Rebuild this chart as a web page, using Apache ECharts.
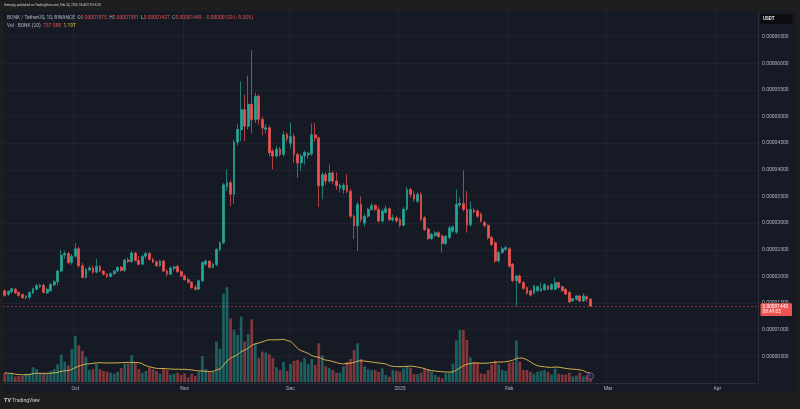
<!DOCTYPE html>
<html>
<head>
<meta charset="utf-8">
<script src="https://cdn.jsdelivr.net/npm/echarts/dist/echarts.min.js"></script>
<style>
  html, body { margin: 0; padding: 0; background: #1e1e1e; }
  #chart { width: 800px; height: 409px; }
</style>
</head>
<body>
<div id="chart"></div>
<script>
// BONK / USDT daily, 2024-09-11 .. 2025-02-24 (prices in 1e-6 USDT, volume in 1e12 BONK)
const firstDay = '2024-09-11';
const totalDays = 214; // axis runs on into April

const opens = [
  17.3,16.6,17.1,17.6,17.0,16.6,16.0,16.1,16.9,17.6,
  18.0,18.35,16.9,17.3,18.4,19.0,21.0,24.0,24.3,22.6,
  23.8,25.2,22.0,19.8,21.2,21.6,20.8,21.9,21.0,20.4,
  20.0,20.5,21.0,21.7,21.1,23.1,22.8,24.4,23.0,22.3,
  23.8,24.3,23.2,22.7,22.0,22.9,21.0,20.4,21.5,21.9,
  20.9,20.1,19.4,18.9,17.9,17.6,19.2,22.3,22.9,21.7,
  22.2,25.0,26.3,36.9,37.6,35.4,45.2,47.5,51.3,48.2,
  52.3,49.4,53.8,49.5,47.6,47.9,43.5,42.6,43.9,42.9,
  46.7,45.0,46.3,42.9,41.3,42.6,42.8,43.0,46.6,46.0,
  37.0,39.1,37.9,39.4,37.9,36.6,36.3,37.1,36.0,31.3,
  29.5,33.5,30.0,31.3,32.6,33.3,32.6,30.4,32.0,32.7,
  30.6,31.0,30.7,29.6,32.6,36.3,35.4,34.1,35.4,31.0,
  28.9,27.1,27.7,28.2,27.6,26.2,27.3,28.5,28.3,33.4,
  33.7,32.6,29.7,32.4,32.3,31.7,30.1,29.6,27.3,26.3,
  22.9,24.5,25.1,25.2,22.3,19.2,20.1,18.85,17.9,17.3,
  16.85,17.3,17.3,17.5,18.2,17.6,17.6,18.85,18.1,17.6,
  17.0,15.4,15.7,16.35,15.4,16.2,15.75
];
const closes = [
  16.4,17.2,17.7,16.9,16.4,16.0,16.3,17.0,17.7,18.3,
  18.35,17.0,17.6,18.5,19.0,21.0,24.0,24.3,22.6,23.8,
  25.2,22.0,19.8,21.3,21.6,20.8,21.9,21.0,20.4,20.0,
  20.5,21.0,21.7,21.1,23.1,22.8,24.4,23.0,22.3,23.8,
  24.3,23.2,22.7,22.0,22.9,21.0,20.4,21.6,21.8,20.9,
  20.1,19.4,18.9,17.9,17.6,19.2,22.6,22.9,21.7,22.3,
  25.1,26.3,37.2,37.6,35.4,45.2,47.6,51.3,48.2,52.3,
  49.4,53.8,49.5,47.9,47.9,43.2,42.6,43.9,42.9,46.6,
  45.8,46.3,42.9,41.3,42.6,43.3,43.1,46.6,46.0,37.0,
  39.1,37.9,39.4,37.9,37.0,37.1,37.1,36.0,31.3,29.5,
  33.5,30.7,31.3,32.6,33.3,32.6,30.4,32.3,32.7,30.7,
  31.0,30.4,29.6,32.6,36.3,35.4,34.5,35.4,30.7,28.8,
  27.1,27.9,28.2,27.5,26.2,27.5,29.1,29.3,33.5,33.7,
  32.6,29.6,32.6,32.1,31.3,30.4,29.5,27.2,26.0,22.9,
  24.5,25.2,25.4,21.9,19.2,20.1,18.85,17.73,16.85,16.5,
  18.2,18.1,17.7,18.5,17.6,18.5,18.85,17.9,17.3,16.7,
  15.2,15.85,16.35,15.4,16.35,15.75,14.45
];
const highs = [
  17.6,17.4,17.9,17.8,17.2,16.8,16.5,17.2,17.9,18.6,
  18.6,18.6,17.9,18.8,19.3,21.3,25.0,24.8,24.6,24.2,
  26.3,25.6,22.5,21.6,22.0,22.0,23.3,22.1,21.2,20.6,
  20.8,21.2,21.9,22.0,23.3,23.6,24.8,24.6,23.8,24.0,
  24.6,24.6,23.5,23.0,23.1,23.1,21.4,21.9,22.0,22.2,
  21.2,20.4,19.7,19.1,18.4,19.4,22.9,23.2,23.0,22.5,
  25.3,26.6,37.5,40.1,38.0,45.6,48.6,56.6,54.1,57.7,
  62.5,54.5,54.2,50.0,48.6,48.3,44.0,44.5,44.3,47.3,
  47.0,48.8,46.8,43.2,43.0,43.6,43.4,48.7,48.8,46.3,
  39.5,39.6,41.0,39.8,39.5,37.4,37.5,39.2,36.5,31.6,
  34.0,35.0,31.8,32.9,33.8,33.6,33.1,32.7,33.3,33.0,
  31.6,31.3,31.0,33.0,36.8,36.6,36.0,35.8,35.8,31.3,
  29.2,28.2,28.5,28.5,27.9,27.8,29.5,29.6,36.3,34.8,
  39.9,36.0,34.1,32.8,32.6,32.0,30.4,29.8,27.6,26.6,
  24.8,25.6,25.8,25.5,22.5,20.3,20.4,19.1,18.1,17.5,
  18.4,18.3,18.9,18.7,18.4,18.7,19.8,19.0,18.3,17.8,
  17.2,16.0,16.5,16.5,16.85,16.4,15.91
];
const lows = [
  16.2,16.4,16.9,16.7,16.2,15.8,15.7,15.7,16.7,17.4,
  17.8,16.8,16.7,17.1,18.2,18.3,20.8,23.3,22.3,22.2,
  23.5,21.7,19.6,19.6,20.9,20.5,20.6,20.8,20.2,19.7,
  19.8,20.2,20.8,20.9,20.9,22.5,22.5,22.8,22.0,22.1,
  23.4,23.0,22.5,21.8,21.8,20.8,20.0,20.3,21.0,20.7,
  19.9,19.2,18.7,17.7,17.3,17.5,18.9,22.0,21.5,21.5,
  21.9,24.7,26.1,36.0,33.2,33.6,44.6,45.4,45.4,47.6,
  46.8,48.8,48.5,46.5,46.8,42.5,40.1,42.2,42.5,42.5,
  45.3,44.0,41.3,38.5,39.8,41.0,42.0,42.6,45.3,33.0,
  34.5,37.2,37.5,37.3,36.3,35.8,35.5,35.6,30.9,27.0,
  24.8,30.2,29.4,31.0,32.3,32.2,30.1,30.0,31.8,30.3,
  30.3,30.1,29.2,29.4,32.3,34.8,34.0,33.8,30.4,28.5,
  26.8,26.8,27.4,27.2,24.5,25.9,27.0,28.2,28.0,33.0,
  32.2,28.2,29.3,31.8,31.0,30.1,29.2,26.9,25.7,22.6,
  22.6,24.2,24.8,21.6,18.9,14.5,18.6,17.5,16.6,16.2,
  16.6,17.1,17.1,17.3,17.4,17.4,17.4,17.7,17.1,16.5,
  15.0,15.2,15.5,15.2,15.2,15.2,14.27
];
const volumes = [
  1.0,0.9,0.9,0.6,0.65,0.65,0.9,0.9,1.6,1.4,
  0.9,0.9,0.9,1.2,1.4,1.9,3.0,2.2,1.8,3.6,
  5.0,4.0,3.4,2.7,1.3,1.4,2.0,1.4,1.2,1.1,
  1.0,0.9,1.1,1.5,2.0,2.0,2.9,2.1,1.4,1.0,
  1.2,1.6,1.4,1.2,0.9,1.5,1.3,0.8,0.9,1.0,
  0.76,0.94,0.5,0.9,0.65,1.1,2.8,1.4,1.1,1.1,
  4.4,3.6,9.6,10.3,6.9,5.65,5.1,7.1,4.4,5.2,
  6.8,4.2,2.6,3.3,3.2,3.0,2.6,1.6,1.3,2.2,
  1.2,1.95,2.3,2.4,2.2,2.6,1.95,2.5,1.85,4.2,
  2.9,1.7,1.5,1.3,1.0,1.0,1.7,2.2,2.5,3.5,
  4.2,2.5,1.7,1.4,1.3,1.3,1.1,1.48,0.76,0.58,
  1.3,1.23,1.12,1.48,1.67,1.56,0.87,0.87,1.01,1.48,
  1.38,1.12,0.76,0.58,0.4,0.94,1.01,2.0,4.5,5.65,
  5.65,4.57,2.68,2.2,2.1,0.94,0.87,1.3,1.9,2.3,
  1.9,1.3,1.2,2.1,2.2,4.5,2.2,1.3,1.3,1.1,
  0.9,1.1,1.2,1.3,1.1,0.8,1.45,0.9,0.8,0.8,
  1.0,0.6,0.7,1.0,0.6,0.7,0.74
];

const monthTicks = ['2024-10-01','2024-11-01','2024-12-01','2025-01-01','2025-02-01','2025-03-01','2025-04-01'];
const monthNames = ['Oct','Nov','Dec','2025','Feb','Mar','Apr'];

const UP = '#26a69a';
const DOWN = '#ef5350';
const FONT = 'Roboto, "Liberation Sans", sans-serif';

// build category dates
const dates = [];
const t0 = new Date(firstDay + 'T00:00:00Z').getTime();
for (let i = 0; i < totalDays; i++) {
  dates.push(new Date(t0 + i * 86400000).toISOString().slice(0, 10));
}

const candleData = opens.map((o, i) => [o, closes[i], lows[i], highs[i]]);
const volumeData = volumes.map((v, i) => ({
  value: v,
  itemStyle: { color: closes[i] >= opens[i] ? 'rgba(38,166,154,0.5)' : 'rgba(239,83,80,0.5)' }
}));
// 20 day volume average
const volumeMA = volumes.map((v, i) => {
  const win = volumes.slice(Math.max(0, i - 19), i + 1);
  return +(win.reduce((a, b) => a + b, 0) / win.length).toFixed(3);
});

const isMonthStart = (idx, val) => monthTicks.indexOf(val) >= 0;

const chart = echarts.init(document.getElementById('chart'));

chart.setOption({
  backgroundColor: '#161a25',
  animation: false,
  grid: [
    { left: 3, right: 42, top: 10, bottom: 26 },
    { left: 3, right: 42, top: 10, bottom: 27 }
  ],
  xAxis: [
    {
      type: 'category',
      gridIndex: 0,
      data: dates,
      boundaryGap: true,
      axisLine: { show: true, lineStyle: { color: '#2a2e39' } },
      axisTick: { show: false },
      axisLabel: {
        interval: isMonthStart,
        formatter: (val) => monthNames[monthTicks.indexOf(val)],
        color: '#b2b5be',
        fontSize: 5,
        fontFamily: FONT,
        margin: 3
      },
      splitLine: { show: true, interval: isMonthStart, lineStyle: { color: '#1f2330', width: 1 } }
    },
    {
      type: 'category',
      gridIndex: 1,
      data: dates,
      boundaryGap: true,
      show: false
    }
  ],
  yAxis: [
    {
      type: 'value',
      gridIndex: 0,
      position: 'right',
      min: 0,
      max: 70,
      interval: 5,
      axisLine: { show: true, lineStyle: { color: '#2a2e39' } },
      axisTick: { show: false },
      axisLabel: {
        formatter: (v) => (v <= 0 || v >= 70) ? '' : (v * 1e-6).toFixed(8),
        color: '#b2b5be',
        fontSize: 5,
        fontFamily: FONT,
        margin: 4
      },
      splitLine: { show: true, lineStyle: { color: '#1f2330', width: 1 } }
    },
    {
      type: 'value',
      gridIndex: 1,
      min: 0,
      max: 40.4,
      show: false,
      splitLine: { show: false }
    }
  ],
  series: [
    {
      name: 'Volume',
      type: 'bar',
      xAxisIndex: 1,
      yAxisIndex: 1,
      data: volumeData,
      barWidth: 2.7,
      z: 1
    },
    {
      name: 'Vol MA',
      type: 'line',
      xAxisIndex: 1,
      yAxisIndex: 1,
      data: volumeMA,
      showSymbol: false,
      smooth: 0.3,
      lineStyle: { color: '#e6c14f', width: 0.9 },
      z: 2
    },
    {
      name: 'BONK',
      type: 'candlestick',
      xAxisIndex: 0,
      yAxisIndex: 0,
      data: candleData,
      barWidth: 2.3,
      itemStyle: {
        color: UP,
        color0: DOWN,
        borderColor: UP,
        borderColor0: DOWN,
        borderWidth: 0.7
      },
      markLine: {
        silent: true,
        symbol: 'none',
        label: { show: false },
        lineStyle: { color: 'rgba(239,83,80,0.6)', type: [2, 2], width: 0.8 },
        data: [{ yAxis: closes[closes.length - 1] }]
      },
      z: 3
    }
  ]
});

// overlay texts and the price tag (positions from the chart's own scales)
const lastIdx = closes.length - 1;
const tagY = chart.convertToPixel({ yAxisIndex: 0 }, closes[lastIdx]);
const markX = chart.convertToPixel({ xAxisIndex: 0 }, dates[lastIdx]);

chart.setOption({
  graphic: [
    { type: 'rect', shape: { x: 0, y: 0, width: 800, height: 11 }, style: { fill: '#1e1e1e' }, z: 10 },
    { type: 'rect', shape: { x: 0, y: 393, width: 800, height: 16 }, style: { fill: '#1e1e1e' }, z: 10 },
    { type: 'rect', shape: { x: 0, y: 0, width: 3, height: 409 }, style: { fill: '#1e1e1e' }, z: 10 },
    { type: 'rect', shape: { x: 796, y: 0, width: 4, height: 409 }, style: { fill: '#1e1e1e' }, z: 10 },
    {
      type: 'text', x: 4, y: 3.5, z: 11,
      style: { text: 'themrjay published on TradingView.com, Feb 24, 2025 18:40 UTC+3:30', fill: '#d1d4dc', font: '3.1px ' + FONT }
    },
    {
      type: 'text', x: 7, y: 15.3, z: 11,
      style: {
        text: '{g|BONK / TetherUS, 1D, BINANCE  O}{r|0.00001575}{g|  H}{r|0.00001591}{g|  L}{r|0.00001427}{g|  C}{r|0.00001445}{r|  \u22120.00000129 (\u22128.20%)}',
        rich: {
          g: { fill: '#b2b5be', font: '4.9px ' + FONT },
          r: { fill: '#ef5350', font: '4.9px ' + FONT }
        }
      }
    },
    {
      type: 'text', x: 7, y: 22.8, z: 11,
      style: {
        text: '{g|Vol \u00b7 BONK (20)  }{r|737.588}{y|  1.19T}',
        rich: {
          g: { fill: '#b2b5be', font: '4.9px ' + FONT },
          r: { fill: '#ef5350', font: '4.9px ' + FONT },
          y: { fill: '#e6c14f', font: '4.9px ' + FONT }
        }
      }
    },
    { type: 'rect', shape: { x: 760.5, y: 14, width: 32, height: 10, r: 1 }, style: { fill: '#0c0d10' }, z: 11 },
    { type: 'text', x: 763, y: 16.5, z: 12, style: { text: 'USDT', fill: '#e0e3eb', font: 'bold 4.6px ' + FONT } },
    { type: 'rect', shape: { x: 760.5, y: tagY - 2.8, width: 31.5, height: 12.7, r: 1 }, style: { fill: '#ef5350' }, z: 11 },
    { type: 'text', x: 762.5, y: tagY - 2, z: 12, style: { text: (closes[lastIdx] * 1e-6).toFixed(8), fill: '#ffffff', font: '4.8px ' + FONT } },
    { type: 'text', x: 762.5, y: tagY + 3.8, z: 12, style: { text: '08:49:05', fill: '#ffffff', font: '4.8px ' + FONT } },
    { type: 'circle', shape: { cx: markX, cy: 376, r: 3.2 }, style: { fill: '#161a25', stroke: '#a05ad8', lineWidth: 0.8 }, z: 11 },
    { type: 'text', x: markX - 1.2, y: 374, z: 12, style: { text: 'E', fill: '#a05ad8', font: '3.5px ' + FONT } },
    {
      type: 'text', x: 4, y: 398, z: 11,
      style: {
        text: '{b|TV}{n| TradingView}',
        rich: {
          b: { fill: '#d1d4dc', font: 'bold 5.5px ' + FONT },
          n: { fill: '#d1d4dc', font: '5px ' + FONT }
        }
      }
    }
  ]
});
</script>
</body>
</html>
